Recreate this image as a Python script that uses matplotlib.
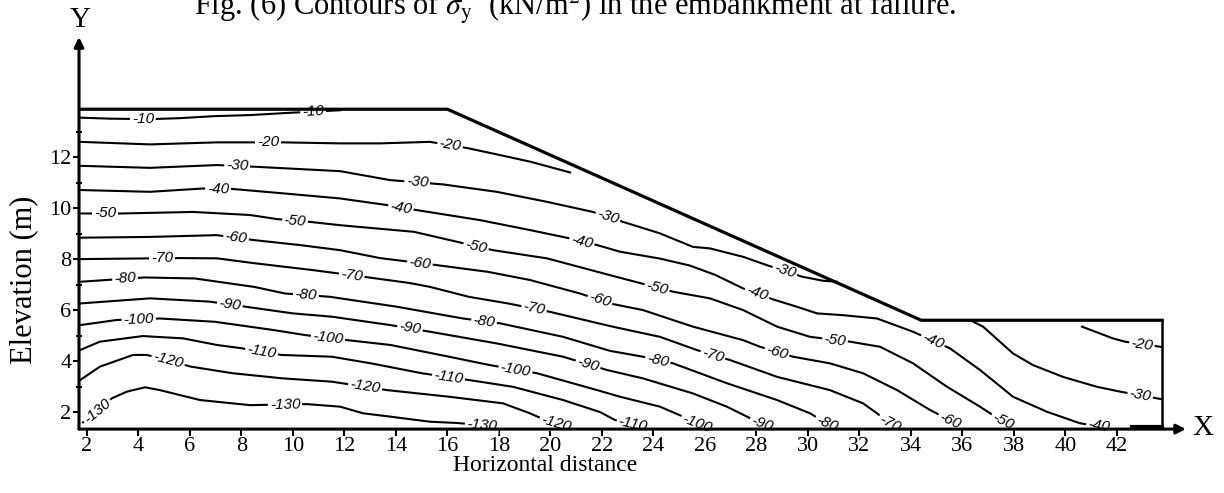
import numpy as np
import matplotlib
matplotlib.use("Agg")
import matplotlib.pyplot as plt

# embankment outline (m)
SURF_X = [1.69, 16.0, 34.4, 43.75, 43.75]
SURF_Y = [13.88, 13.88, 5.6, 5.6, 1.33]

# contour lines of sigma_y (kN/m2)
X_10 = [1.73, 2.89, 4.45, 5.61, 6.97, 8.33, 9.69, 11.05, 11.83]
Y_10 = [13.55, 13.51, 13.49, 13.53, 13.61, 13.65, 13.73, 13.80, 13.84]

X_20 = [1.73, 4.45, 7.04, 9.61, 11.83, 13.38, 15.32, 16.10, 16.75, 17.91, 19.22, 20.76]
Y_20 = [12.60, 12.50, 12.58, 12.58, 12.54, 12.54, 12.60, 12.47, 12.36, 12.11, 11.82, 11.40]

X_30 = [1.73, 4.45, 7.04, 8.59, 11.83, 13.77, 15.83, 17.91, 19.85, 21.65, 22.82, 24.25,
        25.53, 26.19, 27.48, 28.41, 29.77, 30.59, 31.13]
Y_30 = [11.66, 11.58, 11.69, 11.62, 11.45, 11.10, 10.93, 10.64, 10.25, 9.85, 9.46, 9.01,
        8.48, 8.42, 8.09, 7.76, 7.31, 7.15, 7.11]

X_40 = [1.73, 4.45, 6.50, 7.67, 9.61, 11.83, 13.65, 14.82, 17.26, 19.20, 20.76, 21.81, 22.70,
        24.25, 25.40, 26.40, 27.48, 28.64, 29.57, 30.35, 31.36, 32.68, 34.08, 35.51, 36.68, 37.96,
        39.28, 40.56, 41.73]
Y_40 = [10.71, 10.64, 10.77, 10.75, 10.58, 10.38, 10.12, 9.92, 9.53, 9.14, 8.81, 8.55, 8.29,
        8.02, 7.75, 7.38, 6.85, 6.42, 6.13, 5.87, 5.80, 5.67, 5.15, 4.50, 3.65, 2.60,
        2.01, 1.56, 1.37]

X_50 = [1.73, 3.35, 6.12, 8.33, 9.38, 10.66, 11.83, 14.70, 16.37, 17.77, 19.86, 22.31, 24.76,
        26.19, 27.48, 28.80, 30.08, 31.63, 32.80, 34.08, 35.40, 36.68, 37.18, 37.84]
Y_50 = [9.79, 9.79, 9.85, 9.73, 9.57, 9.46, 9.33, 9.07, 8.68, 8.35, 8.03, 7.37, 6.72,
        6.46, 6.00, 5.35, 4.95, 4.76, 4.56, 3.91, 2.99, 2.21, 1.88, 1.49]

X_60 = [1.73, 4.45, 7.04, 8.45, 10.27, 11.83, 13.38, 15.61, 17.57, 19.20, 21.15, 22.31, 23.59,
        25.53, 27.48, 28.14, 29.42, 30.85, 32.14, 33.46, 34.74, 35.24, 35.71]
Y_60 = [8.84, 8.87, 8.94, 8.75, 8.55, 8.35, 8.04, 7.76, 7.50, 7.18, 6.65, 6.26, 6.00,
        5.35, 4.82, 4.56, 4.17, 3.91, 3.52, 2.86, 2.08, 1.82, 1.53]

X_70 = [1.73, 5.61, 7.05, 8.49, 10.76, 12.87, 14.54, 15.32, 16.83, 18.35, 19.98, 22.41, 24.25,
        25.69, 26.97, 28.80, 30.85, 32.14, 32.68, 33.3]
Y_70 = [8.00, 8.04, 8.03, 7.84, 7.57, 7.29, 7.06, 6.91, 6.52, 6.26, 5.93, 5.35, 4.95,
        4.43, 4.04, 3.38, 2.86, 2.34, 1.95, 1.45]

X_80 = [1.73, 4.23, 6.19, 8.49, 9.69, 11.44, 14.04, 16.60, 18.04, 20.49, 22.31, 23.59, 24.76,
        26.85, 28.80, 30.08, 30.9]
Y_80 = [7.11, 7.28, 7.24, 6.91, 6.65, 6.52, 6.13, 5.67, 5.48, 4.95, 4.40, 4.17, 3.91,
        3.13, 2.47, 1.95, 1.45]

X_90 = [1.73, 4.45, 6.78, 8.17, 10.00, 11.51, 13.79, 15.32, 17.92, 20.49, 22.19, 23.59, 25.53,
        26.85, 27.75, 28.4]
Y_90 = [6.26, 6.46, 6.33, 6.13, 5.87, 5.74, 5.41, 5.15, 4.69, 4.17, 3.65, 3.32, 2.73,
        2.21, 1.76, 1.45]

X_100 = [1.73, 3.15, 4.83, 6.97, 9.22, 10.47, 12.12, 13.79, 16.06, 17.65, 19.48, 21.81, 22.70,
         24.25, 25.15, 25.9]
Y_100 = [5.41, 5.61, 5.67, 5.54, 5.22, 5.02, 4.82, 4.63, 4.17, 3.84, 3.52, 2.86, 2.60,
         2.21, 1.82, 1.45]

X_110 = [1.73, 2.50, 4.17, 5.73, 7.05, 8.02, 9.53, 11.51, 13.03, 15.01, 16.87, 18.54, 20.49,
         21.92, 22.50, 23.5]
Y_110 = [4.43, 4.76, 4.98, 4.89, 4.63, 4.50, 4.24, 4.17, 3.91, 3.52, 3.25, 2.99, 2.47,
         2.00, 1.69, 1.45]

X_120 = [1.73, 2.50, 3.79, 4.33, 6.04, 7.67, 9.61, 11.51, 13.65, 16.06, 18.16, 19.20, 19.79, 20.5]
Y_120 = [3.25, 3.78, 4.24, 4.24, 3.78, 3.52, 3.32, 3.19, 2.86, 2.60, 2.34, 1.95, 1.69, 1.45]

X_130 = [1.85, 2.97, 3.55, 4.25, 4.83, 6.39, 8.33, 10.54, 11.83, 12.72, 13.77, 15.32, 16.37, 17.8]
Y_130 = [1.60, 2.54, 2.80, 2.97, 2.86, 2.47, 2.27, 2.31, 2.21, 1.95, 1.82, 1.62, 1.57, 1.45]

# contours under the berm
X_30B = [36.37, 36.80, 37.96, 38.74, 39.90, 41.22, 42.12, 43.75]
Y_30B = [5.57, 5.35, 4.30, 3.84, 3.38, 2.99, 2.80, 2.50]
X_20B = [40.64, 41.84, 42.31, 43.75]
Y_20B = [5.35, 4.89, 4.76, 4.55]

CONTOURS = [
    (-10, X_10, Y_10, [4.17, 10.78]),
    (-20, X_20, Y_20, [9.03, 16.1]),
    (-30, X_30, Y_30, [7.83, 14.82, 22.23, 29.1]),
    (-40, X_40, Y_40, [7.09, 14.19, 21.22, 28.02, 34.85, 41.3]),
    (-50, X_50, Y_50, [2.70, 10.08, 17.11, 24.14, 31.05, 37.57]),
    (-60, X_60, Y_60, [7.79, 14.93, 21.92, 28.80, 35.51]),
    (-70, X_70, Y_70, [4.91, 12.28, 19.36, 26.31, 33.18]),
    (-80, X_80, Y_80, [3.48, 10.50, 17.42, 24.17, 30.74]),
    (-90, X_90, Y_90, [7.55, 14.54, 21.46, 28.21]),
    (-100, X_100, Y_100, [4.01, 11.36, 18.64, 25.69]),
    (-110, X_110, Y_110, [8.78, 16.04, 23.20]),
    (-120, X_120, Y_120, [5.15, 12.80, 20.21]),
    (-130, X_130, Y_130, [2.39, 9.69, 17.34]),
    (-30, X_30B, Y_30B, [42.9]),
    (-20, X_20B, Y_20B, [42.97]),
]

plt.rcParams['font.family'] = ['Liberation Serif', 'DejaVu Serif']
plt.rcParams['mathtext.fontset'] = 'stix'

fig = plt.figure(figsize=(12.24, 4.93), dpi=100)
ax = fig.add_axes([79 / 1224, 63.9 / 493, 1107 / 1224, 392 / 493])
ax.set_xlim(1.69, 44.68)
ax.set_ylim(1.33, 16.71)
for s in ax.spines.values():
    s.set_visible(False)


def draw_contour(level, xs, ys, label_xs):
    ax.plot(xs, ys, color='black', lw=1.5, zorder=2)
    for lx in label_xs:
        ly = np.interp(lx, xs, ys)
        p0 = ax.transData.transform((lx - 0.4, np.interp(lx - 0.4, xs, ys)))
        p1 = ax.transData.transform((lx + 0.4, np.interp(lx + 0.4, xs, ys)))
        ang = np.degrees(np.arctan2(p1[1] - p0[1], p1[0] - p0[0]))
        ax.text(lx, ly, str(level), rotation=ang, rotation_mode='anchor',
                ha='center', va='center', fontsize=11, style='italic',
                family='Liberation Sans', zorder=3,
                bbox=dict(boxstyle='square,pad=0.12', fc='white', ec='none'))


for level, xs, ys, labs in CONTOURS:
    draw_contour(level, xs, ys, labs)

# embankment surface
ax.plot(SURF_X[:4], SURF_Y[:4], color='black', lw=2.3, zorder=4)
ax.plot(SURF_X[3:], SURF_Y[3:], color='black', lw=1.8, zorder=4)
ax.plot([42.6, 43.75], [1.42, 1.42], color='black', lw=3, zorder=4)

# axes with arrows
arrow = dict(arrowstyle='-|>', lw=2.2, color='black', shrinkA=0, shrinkB=0,
             mutation_scale=14)
ax.annotate('', xy=(1, 0), xytext=(0, 0), xycoords='axes fraction', arrowprops=arrow, zorder=5)
ax.annotate('', xy=(0, 1), xytext=(0, 0), xycoords='axes fraction', arrowprops=arrow, zorder=5)

ax.set_xticks(np.arange(2, 43, 2))
ax.set_yticks(np.arange(2, 13, 2))
ax.set_yticks(np.arange(3, 14, 2), minor=True)
ax.tick_params(axis='x', direction='out', length=5, width=1.5, pad=0.5, labelsize=16)
ax.tick_params(axis='y', direction='out', length=4, width=1.5, pad=1.5, labelsize=16)
ax.tick_params(axis='y', which='minor', direction='inout', length=4, width=1.5)

fig.text(1203 / 1224, 1 - 428 / 493, 'X', fontsize=21, ha='center', va='center')
fig.text(80 / 1224, 1 - 20 / 493, 'Y', fontsize=21, ha='center', va='center')
fig.text(545 / 1224, 1 - 471 / 493, 'Horizontal distance', fontsize=17, ha='center',
         va='baseline')
fig.text(24 / 1224, 1 - 280 / 493, 'Elevation (m)', fontsize=22, ha='center', va='center',
         rotation=90)
fig.text(575 / 1224, 1 - 15 / 493,
         r'Fig. (6) Contours of $\sigma_{\mathrm{y}}$  (kN/m$^{2}$) in the embankment at failure.',
         fontsize=22, ha='center', va='baseline')

fig.savefig('out.png', dpi=100)
